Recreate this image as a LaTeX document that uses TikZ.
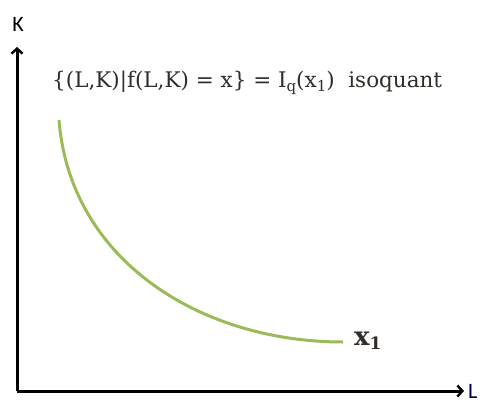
\documentclass[tikz,border=0pt]{standalone}
\usepackage{fontspec}
\newfontfamily\calib{Carlito}
\newfontfamily\eqfont{DejaVu Serif}
\usetikzlibrary{arrows.meta}
\definecolor{curvegreen}{RGB}{155,187,89}
\definecolor{texgray}{RGB}{50,45,40}
\tikzset{
  axis/.style={line width=3pt, -{Straight Barb[length=5pt,width=11pt,line width=2.4pt]}},
  curv/.style={curvegreen, line width=3pt},
  axlabel/.style={font=\calib\fontsize{22}{24}\selectfont, inner sep=0pt},
}
\newcommand{\sbs}[2]{\raisebox{-0.35ex}{\fontsize{#1}{#1}\selectfont #2}}
\begin{document}
\begin{tikzpicture}[x=1pt,y=1pt]
\useasboundingbox (0,0) rectangle (481,405);
\coordinate (O) at (17,14);
\coordinate (Ktip) at (17,358);
\coordinate (Ltip) at (464,14);
\draw[axis] (O) -- (Ktip);
\draw[axis] (O) -- (Ltip);
\node[axlabel, anchor=base] (K) at (18,373) {K};
\node[axlabel, anchor=base west, text=black!70!blue] (L) at (468,7) {L};
\coordinate (c0) at (59,285);
\coordinate (c1) at (343,63);
\draw[curv] (c0) .. controls (70,145) and (200,63) .. (c1);
\node[inner sep=0pt, anchor=base west, text=texgray, font=\eqfont\bfseries\fontsize{26}{28}\selectfont] (lab) at (354,60) {x\sbs{17}{\bfseries 1}};
\node[inner sep=0pt, anchor=base west, text=texgray, font=\eqfont\fontsize{21.5}{24}\selectfont] (eq) at (52,317) {\{(L,K)|f(L,K) = x\} = I\sbs{15}{q}(x\sbs{15}{1})\ \ isoquant};
\end{tikzpicture}
\end{document}
